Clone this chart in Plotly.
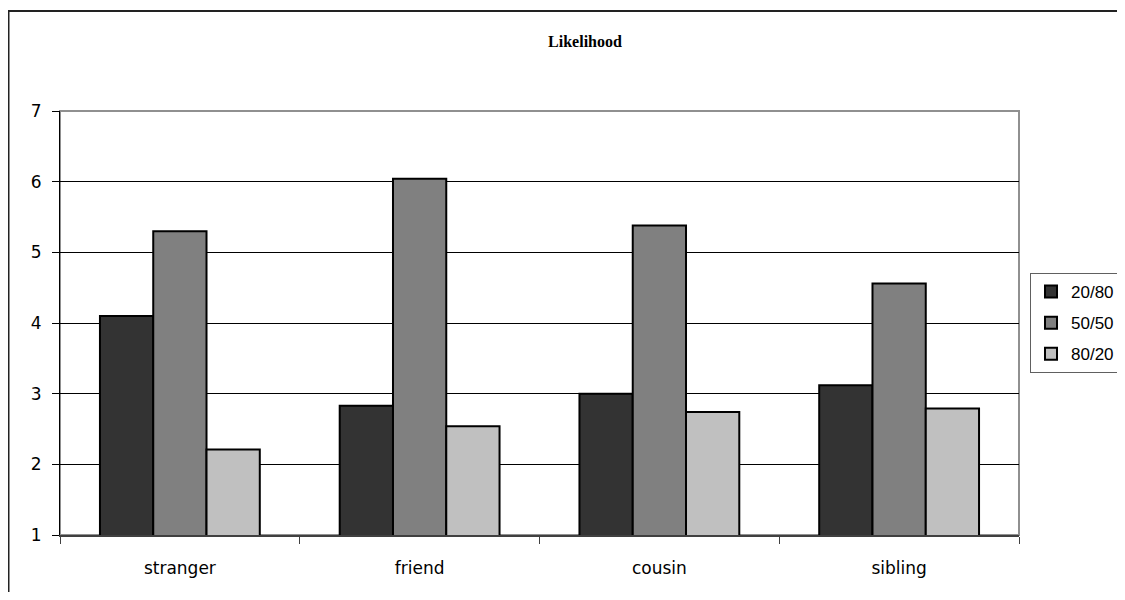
import plotly.graph_objects as go

categories = ["stranger", "friend", "cousin", "sibling"]
series_names = ["20/80", "50/50", "80/20"]
vals_2080 = [4.10, 2.83, 3.00, 3.12]
vals_5050 = [5.30, 6.04, 5.38, 4.56]
vals_8020 = [2.21, 2.54, 2.74, 2.79]
colors = ["#333333", "#808080", "#C0C0C0"]
y_ticks = [1, 2, 3, 4, 5, 6, 7]

# page has 8px body margin; coordinates below are in figure pixels
OFF = 8
W, H = 1109, 584
L, T = 60 - OFF, 111 - OFF
pw, ph = 959, 424
R = W - L - pw
B = H - T - ph

def px2paper_x(px):  # px = page pixel
    return (px - OFF - L) / pw

def px2paper_y(py):
    return (T + ph - (py - OFF)) / ph

fig = go.Figure()
for name, vals, col in zip(series_names, [vals_2080, vals_5050, vals_8020], colors):
    fig.add_trace(go.Bar(
        x=categories, y=vals, name=name, legendgroup=name,
        marker=dict(color=col, line=dict(color="#000000", width=2)),
    ))

fig.update_layout(
    width=W, height=H,
    margin=dict(l=L, r=R, t=T, b=B, pad=0, autoexpand=False),
    paper_bgcolor="white", plot_bgcolor="white",
    barmode="group", bargap=1/3, bargroupgap=0,
    font=dict(family="DejaVu Sans, Liberation Sans, Arial", size=17, color="#000000"),
    title=dict(text="<b>Likelihood</b>", x=px2paper_x(585), xref="paper", xanchor="center",
               y=1 - (41 - OFF) / H, yref="container", yanchor="middle",
               font=dict(family="Liberation Serif, Times New Roman", size=16, color="#000000")),
    legend=dict(x=px2paper_x(1030), y=px2paper_y(273), xanchor="left", yanchor="top",
                bordercolor="#606060", borderwidth=1, bgcolor="white",
                font=dict(family="Liberation Sans, Arial", size=17), tracegroupgap=6, itemwidth=30),
    showlegend=True,
)
fig.update_yaxes(range=[1, 7], tickvals=y_ticks, showgrid=True, gridcolor="#000000", gridwidth=1,
                 showline=True, linecolor="#000000", linewidth=1, ticks="outside", ticklen=7,
                 tickcolor="#000000", zeroline=False, ticklabelstandoff=7)
fig.update_xaxes(showline=True, linecolor="#404040", linewidth=2, ticks="outside", ticklen=7,
                 tickcolor="#404040", tickson="boundaries", showgrid=False, ticklabelstandoff=17)

# plot area border (gray top/right)
fig.add_shape(type="rect", xref="paper", yref="paper", x0=0, x1=1, y0=0, y1=1,
              line=dict(color="#909090", width=2), layer="below")
# outer chart border
fig.add_shape(type="rect", xref="paper", yref="paper",
              x0=px2paper_x(8.5), x1=px2paper_x(1160), y0=px2paper_y(640), y1=px2paper_y(11),
              line=dict(color="#222222", width=2), layer="below")

fig.write_html("out.html")
